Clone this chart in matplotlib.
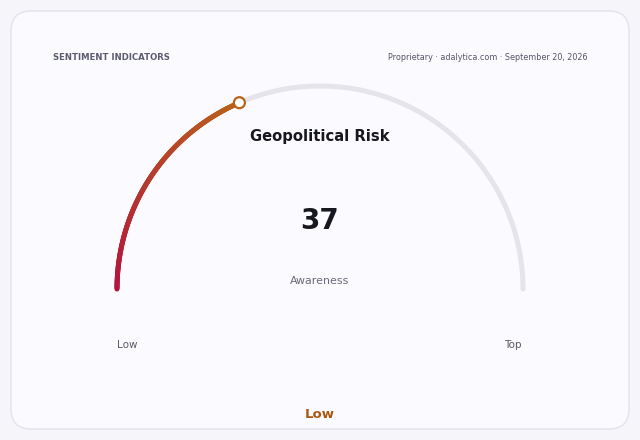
import numpy as np
import matplotlib.pyplot as plt
from matplotlib.collections import LineCollection
from matplotlib.patches import FancyBboxPatch, Circle
from matplotlib.colors import to_rgb

# gauge data
title = "Geopolitical Risk"
value = 37
vmin, vmax = 0, 100
metric = "Awareness"
low_label, high_label = "Low", "Top"
band = "Low"
header = "SENTIMENT INDICATORS"
source = "Proprietary · adalytica.com · September 20, 2026"

fig = plt.figure(figsize=(6.4, 4.4), dpi=100)
fig.patch.set_facecolor('#f6f6fa')
ax = fig.add_axes([0, 0, 1, 1])
ax.set_xlim(0, 640)
ax.set_ylim(440, 0)
ax.set_aspect('equal')
ax.axis('off')

# card
card = FancyBboxPatch((11, 11), 618, 418, boxstyle="round,pad=0,rounding_size=20",
                      fc='#fafaff', ec='#e2e2ec', lw=1)
ax.add_patch(card)

ax.text(53, 57, header, fontsize=6.1, fontweight='bold', color='#5b5b70', va='center', ha='left')
ax.text(587, 57, source, fontsize=5.75, color='#55556a', va='center', ha='right')

cx, cy, r = 320, 289, 203
px = 0.72  # points per pixel

# track
th = np.linspace(np.pi, 0, 300)
ax.plot(cx + r * np.cos(th), cy - r * np.sin(th), color='#e4e4ea', lw=5 * px,
        solid_capstyle='round', zorder=2)

# value arc with gradient
frac = (value - vmin) / (vmax - vmin)
end = np.pi - frac * np.pi
th = np.linspace(np.pi, end, 200)
xs = cx + r * np.cos(th)
ys = cy - r * np.sin(th)
pts = np.column_stack([xs, ys]).reshape(-1, 1, 2)
segs = np.concatenate([pts[:-1], pts[1:]], axis=1)
c0 = np.array(to_rgb('#b3133e'))
c1 = np.array(to_rgb('#b8621a'))
t = np.linspace(0, 1, len(segs))[:, None]
cols = c0 * (1 - t) + c1 * t
lc = LineCollection(segs, colors=cols, lw=5 * px, capstyle='round', zorder=3)
ax.add_collection(lc)

ax.add_patch(Circle((xs[-1], ys[-1]), 5.5, fc='white', ec='#b8621a', lw=2.2 * px, zorder=4))

ax.text(cx, 137, title, fontsize=10.6, fontweight='bold', color='#17171f', ha='center', va='center')
ax.text(cx, 221, str(value), fontsize=20, fontweight='bold', color='#17171f', ha='center', va='center')
ax.text(cx, 281, metric, fontsize=7.9, color='#6a6a7a', ha='center', va='center')
ax.text(127, 345, low_label, fontsize=7.5, color='#5a5a68', ha='center', va='center')
ax.text(513, 345, high_label, fontsize=7.5, color='#5a5a68', ha='center', va='center')
ax.text(cx, 414, band, fontsize=9.5, fontweight='bold', color='#a8570f', ha='center', va='center')

fig.savefig('out.png', dpi=100, facecolor=fig.get_facecolor())
